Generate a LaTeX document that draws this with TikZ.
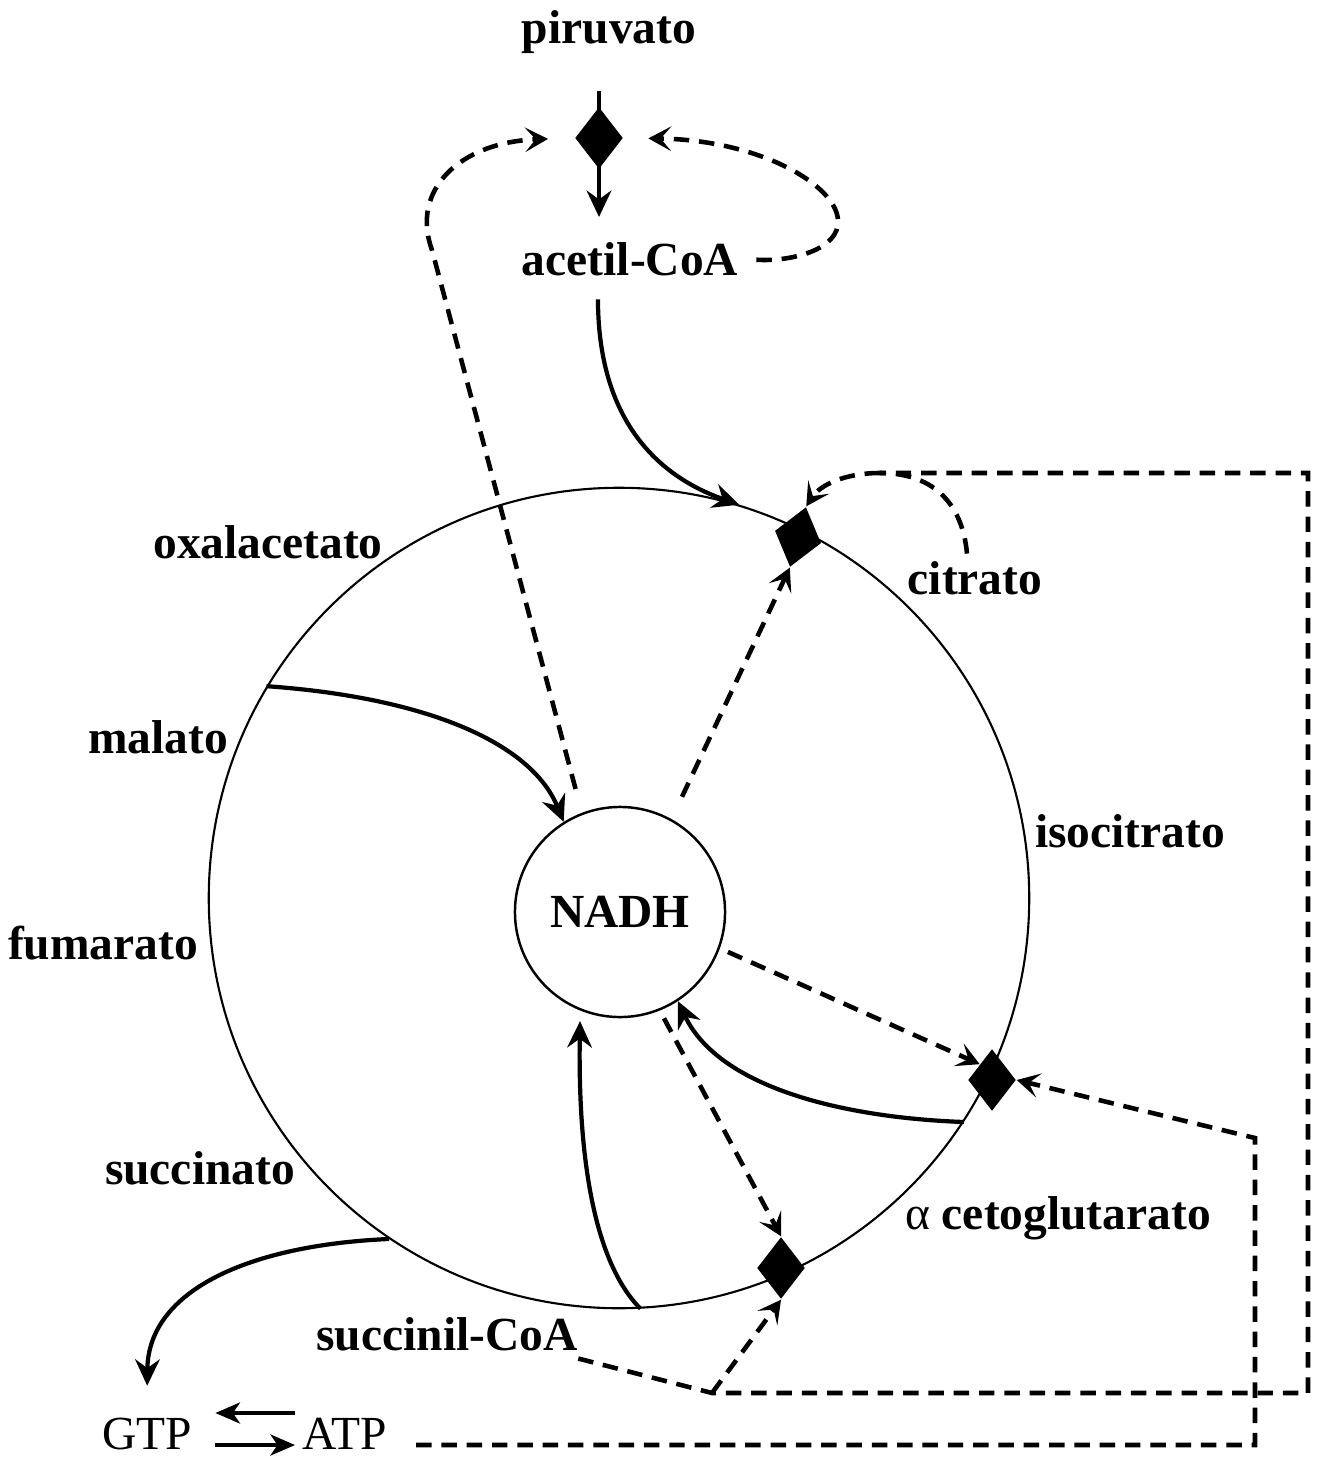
\documentclass[tikz,border=0pt]{standalone}
\usepackage{fontspec}
\setmainfont{Liberation Serif}
\usetikzlibrary{
    arrows.meta,
    shapes.geometric
}

\begin{document}
\begin{tikzpicture}[
    x=0.01cm, y=-0.01cm,
    every node/.style={font=\fontsize{13.5}{16}\selectfont\bfseries, inner sep=2pt},
    valvula/.style={
        diamond,
        fill=black,
        inner sep=0pt,
        minimum width=0.48cm,
        minimum height=0.62cm
    },
    anel/.style={
        circle,
        draw,
        inner sep=0pt
    },
    fluxo/.style={
        -{Stealth[length=7.5pt, width=7pt, inset=2.5pt]},
        line width=1.2pt
    },
    inib/.style={
        -{Stealth[length=6.5pt, width=7pt, inset=3pt]},
        line width=1.3pt,
        dash pattern=on 4.4pt off 2.8pt
    },
    tracejado/.style={
        line width=1.3pt,
        dash pattern=on 4.4pt off 2.8pt
    },
    troca/.style={
        -{Stealth[length=7pt, width=6pt, inset=2pt]},
        line width=1pt
    },
    simples/.style={font=\fontsize{13.5}{16}\selectfont}
]

\useasboundingbox (0,0) rectangle (1326,1460);

\node[anel, line width=0.6pt, minimum size=8.2cm] (ciclo) at (619,898) {};
\node[anel, line width=0.7pt, minimum size=2.1cm] (nadh) at (620,912) {NADH};

\node (piruvato) at (609,32) {piruvato};
\node (acetil) at (630,259) {acetil-CoA};
\node (oxal) at (268,542) {oxalacetato};
\node (citrato) at (975,578) {citrato};
\node (malato) at (158,737) {malato};
\node (isocit) at (1130,831) {isocitrato};
\node (fumarato) at (103,943) {fumarato};
\node (succinato) at (200,1168) {succinato};
\node (alfaceto) at (1058,1218) {{\mdseries α} cetoglutarato};
\node (succoa) at (447,1334) {succinil-CoA};
\node[simples] (gtp) at (147,1434) {GTP};
\node[simples] (atp) at (345,1434) {ATP};

\node[valvula] (dpir) at (599,138) {};
\node[valvula, rotate=-15] (dcit) at (798,537) {};
\node[valvula] (dalfa) at (992,1080) {};
\node[valvula] (dsuc) at (781,1268) {};

\coordinate (jtop) at (880,473);
\coordinate (jsuc) at (712,1393);

\draw[fluxo, shorten <=8.5pt, shorten >=5pt] (piruvato.south -| dpir) -- (acetil.north -| dpir);
\draw[fluxo, shorten <=4.5pt] ([xshift=-0.32cm]acetil.south) .. controls (598,430) and (668,480) .. (ciclo.73);
\draw[fluxo] (ciclo.149) .. controls (420,697) and (530,740) .. (nadh.122);
\draw[fluxo] (ciclo.-33) .. controls (850,1118) and (720,1090) .. (nadh.-57);
\draw[fluxo, shorten >=3pt] (ciclo.-87) .. controls (592,1260) and (578,1150) .. (nadh.-112);
\draw[fluxo, shorten >=7pt] (ciclo.-124) .. controls (250,1245) and (148,1290) .. (gtp.north);

\draw[troca, shorten >=4.5pt] ([yshift=0.21cm]atp.west) -- ([yshift=0.21cm]gtp.east);
\draw[troca, shorten <=4.3pt] ([yshift=-0.11cm]gtp.east) -- ([yshift=-0.11cm]atp.west);

\draw[inib, shorten <=7pt, shorten >=7.5pt] (nadh.111) -- (432,250) .. controls (410,190) and (460,142) .. (dpir.west);
\draw[inib, shorten <=3pt, shorten >=7pt] (acetil.east) .. controls (790,262) and (840,250) .. (838,220) .. controls (836,185) and (760,140) .. (dpir.east);

\draw[tracejado] ([xshift=-0.08cm]citrato.north) .. controls (962,500) and (930,473) .. (jtop);
\draw[inib] (jtop) .. controls (845,473) and (820,485) .. (dcit.north);
\draw[tracejado] ([xshift=-2pt]succoa.south east) -- (jsuc) -- (1308,1393) -- (1308,473) -- (jtop);
\draw[inib] (jsuc) -- (dsuc.south);
\draw[inib, shorten <=6pt] ([yshift=-0.11cm]atp.east) -- (1255,1445) -- (1255,1138) -- (dalfa.east);

\draw[inib, shorten <=7pt] (nadh.61) -- (dcit.south);
\draw[inib, shorten <=2.5pt] (nadh.-20) -- (dalfa.north west);
\draw[inib, shorten <=2.5pt] (nadh.-68) -- (dsuc.north);

\end{tikzpicture}
\end{document}
